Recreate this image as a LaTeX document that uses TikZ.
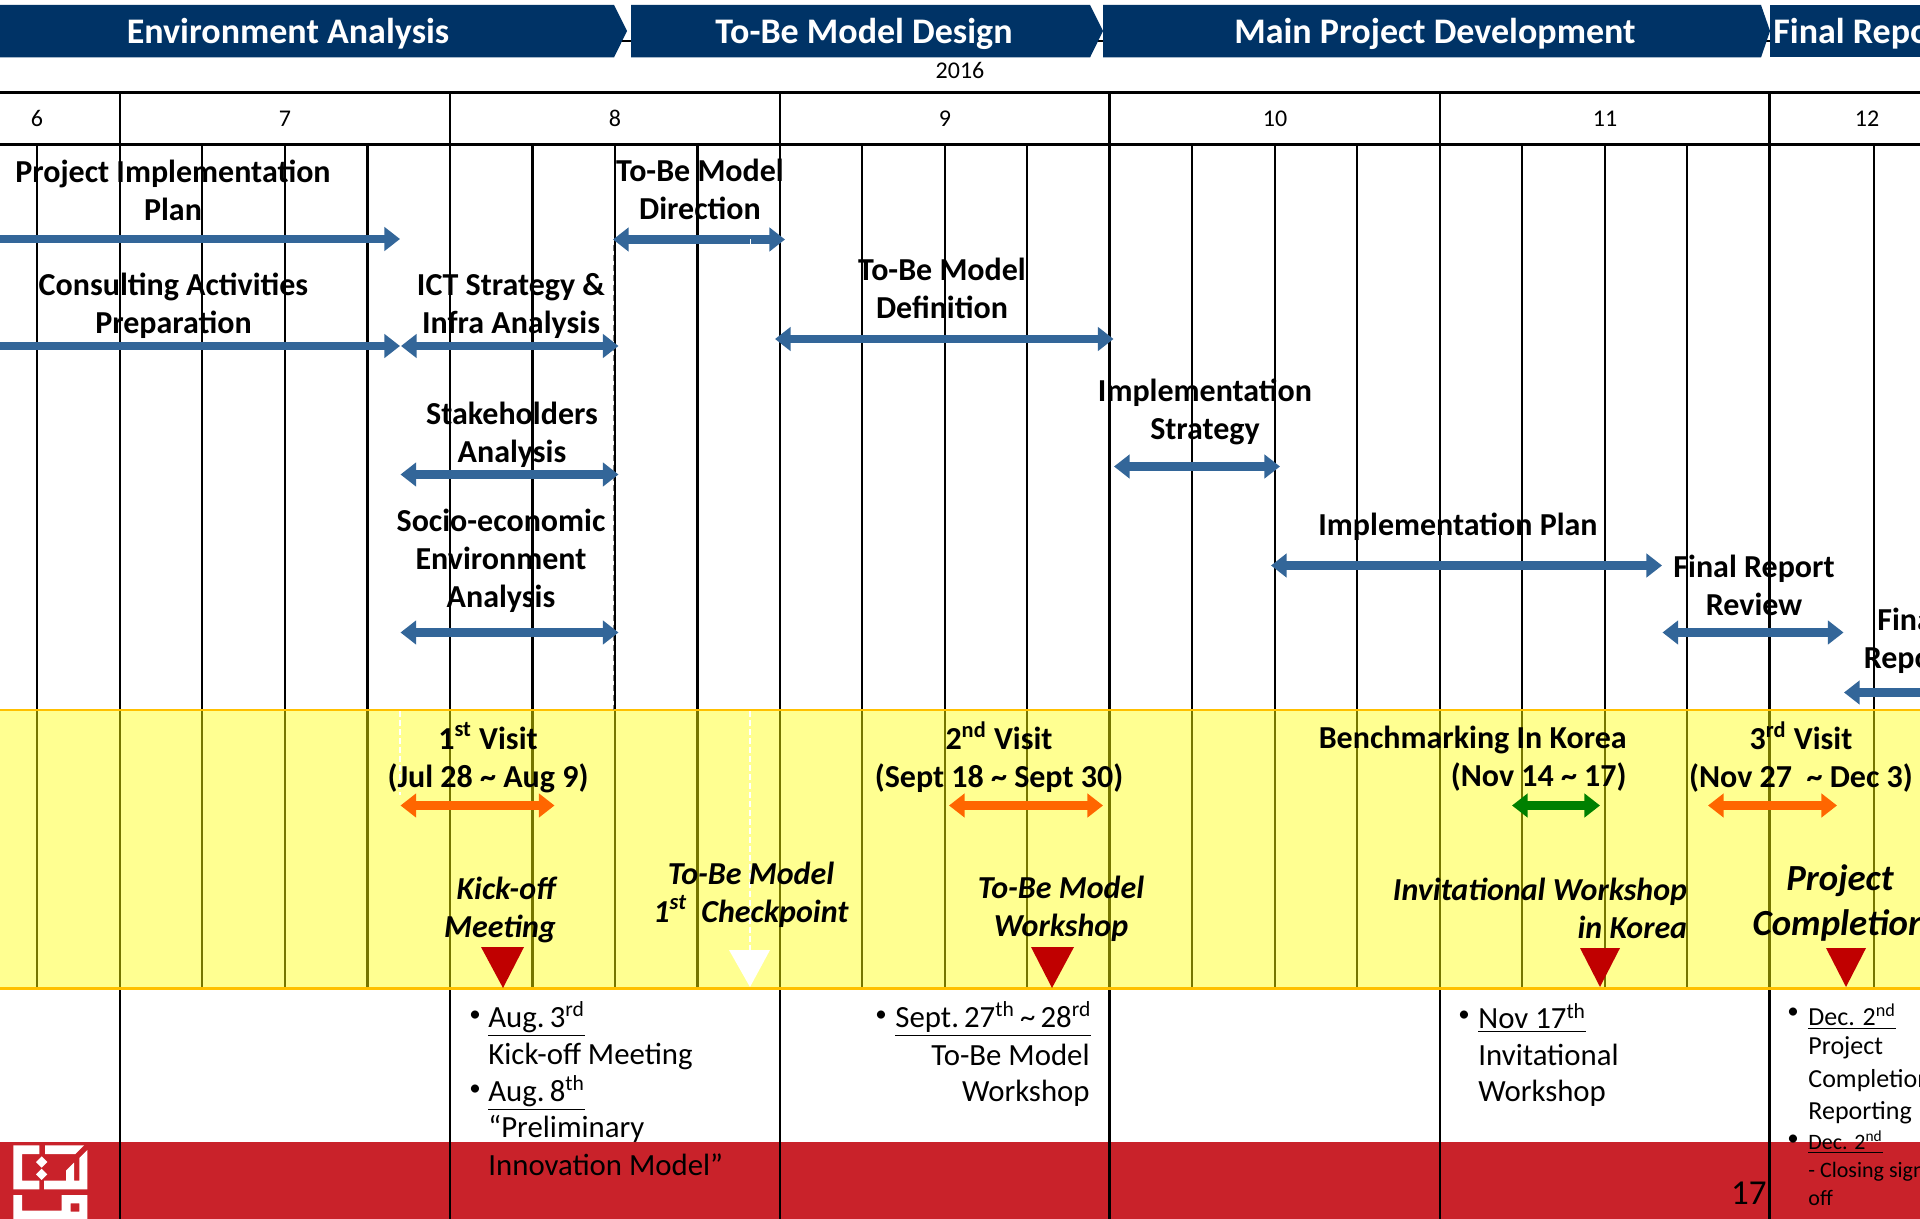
\documentclass[tikz,border=0pt]{standalone}
\usepackage{fontspec}
\setmainfont{Carlito}
\usetikzlibrary{arrows.meta}
\definecolor{navy}{HTML}{003366}
\definecolor{barblue}{HTML}{336699}
\definecolor{bandyellow}{HTML}{FFFF91}
\definecolor{bandedge}{HTML}{FFC000}
\definecolor{olive}{HTML}{757500}
\definecolor{redfoot}{HTML}{C9222A}
\definecolor{marker}{HTML}{C00000}
\definecolor{visit}{HTML}{FF6600}
\definecolor{korea}{HTML}{008000}
\tikzset{
  x=0.5pt,y=-0.5pt,
  chevron/.style={fill=navy,draw=none},
  chevtext/.style={inner sep=0,text=white,font=\fontsize{18}{21}\selectfont\bfseries},
  grid/.style={line width=1.3pt,black},
  gridy/.style={line width=1.3pt,olive},
  rulehead/.style={line width=1.5pt,black},
  month/.style={inner sep=0,font=\fontsize{12}{14}\selectfont},
  lbl/.style={inner sep=0,align=center,font=\fontsize{16}{19}\selectfont\bfseries},
  ital/.style={inner sep=0,align=center,font=\fontsize{16}{19}\selectfont\bfseries\itshape},
  body/.style={inner sep=0,anchor=west,font=\fontsize{15.4}{18}\selectfont},
  small/.style={inner sep=0,anchor=west,font=\fontsize{13}{16}\selectfont},
  smaller/.style={inner sep=0,anchor=west,font=\fontsize{11}{13}\selectfont},
  bul/.style={inner sep=0,font=\fontsize{11.5}{13}\selectfont},
  blockarrow/.style={line width=4.4pt,{Triangle[length=7.8pt,width=11.6pt]}-{Triangle[length=7.8pt,width=11.6pt]}},
  blockright/.style={line width=4.4pt,-{Triangle[length=7.8pt,width=11.6pt]}},
  blockleft/.style={line width=4.4pt,{Triangle[length=7.8pt,width=11.6pt]}-},
  marktri/.style={fill=marker,draw=none},
  logo/.style={fill=white,draw=none},
}
\begin{document}
\begin{tikzpicture}
\useasboundingbox (0,0) rectangle (1920,1219);
\fill[white] (0,0) rectangle (1920,1219);
% bands
\fill[bandyellow] (0,710) rectangle (1920,988);
\fill[redfoot] (0,1142) rectangle (1920,1219);
% small line behind the chevrons
\draw[line width=0.8pt] (0,41) -- (1920,41);
% chevrons
\fill[chevron] (0,5) -- (614,5) -- (627,31) -- (614,57.5) -- (0,57.5) -- cycle;
\fill[chevron] (631,5) -- (1090,5) -- (1103,31) -- (1090,57.5) -- (631,57.5) -- cycle;
\fill[chevron] (1103,5) -- (1761,5) -- (1770,31) -- (1761,57.5) -- (1103,57.5) -- cycle;
\fill[chevron] (1770,5) -- (1920,5) -- (1920,57.5) -- (1770,57.5) -- cycle;
\node[chevtext] (phaseA) at (288,34) {Environment Analysis};
\node[chevtext] (phaseB) at (864,34) {To-Be Model Design};
\node[chevtext] (phaseC) at (1435,34) {Main Project Development};
\node[chevtext,anchor=west] (phaseD) at (1773,34) {Final Report};
\node[month] (year) at (960,70) {2016};
% grid
\foreach \x in {37,202,285,367.5,532.5,615,697.5,862,945,1027,1192,1275,1357,1522,1605,1687,1874}{
  \draw[grid] (\x,144) -- (\x,710);
  \draw[gridy] (\x,710) -- (\x,988);
}
\foreach \x in {120,450,780,1109.5,1440,1769.5}{
  \draw[grid] (\x,92) -- (\x,710);
  \draw[gridy] (\x,710) -- (\x,988);
  \draw[grid] (\x,988) -- (\x,1219);
}
\draw[rulehead] (0,92.5) -- (1920,92.5);
\draw[rulehead] (0,144.5) -- (1920,144.5);
\draw[bandedge,line width=1.3pt] (0,710) -- (1920,710);
\draw[bandedge,line width=1.5pt] (0,988) -- (1920,988);
% guides
\draw[gray,line width=0.4pt,densely dashed] (613.5,245) -- (613.5,710);
\draw[white,line width=0.7pt,dash pattern=on 3pt off 1.5pt] (400,711) -- (400,795);
\draw[white,line width=0.7pt,dash pattern=on 3pt off 1.5pt] (750,711) -- (750,952);
% months
\node[month] (m6) at (37,118.5) {6};
\node[month] (m7) at (285,118.5) {7};
\node[month] (m8) at (615,118.5) {8};
\node[month] (m9) at (945,118.5) {9};
\node[month] (m10) at (1275,118.5) {10};
\node[month] (m11) at (1605,118.5) {11};
\node[month] (m12) at (1867,118.5) {12};
% arrows
\coordinate (p1a) at (-20,239); \coordinate (p1b) at (400,239);
\coordinate (p2a) at (-20,346); \coordinate (p2b) at (400,346);
\coordinate (p3a) at (401,346); \coordinate (p3b) at (618.5,346);
\coordinate (p4a) at (613,239.5); \coordinate (p4b) at (785,239.5);
\coordinate (p5a) at (775,339); \coordinate (p5b) at (1113.5,339);
\coordinate (p6a) at (400.5,474.5); \coordinate (p6b) at (618.5,474.5);
\coordinate (p7a) at (400.5,632.5); \coordinate (p7b) at (618.5,632.5);
\coordinate (p8a) at (1114,466.5); \coordinate (p8b) at (1280,466.5);
\coordinate (p9a) at (1271,565.5); \coordinate (p9b) at (1662,565.5);
\coordinate (p10a) at (1662.5,632.5); \coordinate (p10b) at (1843.5,632.5);
\coordinate (p11a) at (1844,692.5); \coordinate (p11b) at (1940,692.5);
\coordinate (v1a) at (400.5,805.5); \coordinate (v1b) at (554.5,805.5);
\coordinate (v2a) at (949,805.5); \coordinate (v2b) at (1103,805.5);
\coordinate (v3a) at (1512,805.5); \coordinate (v3b) at (1600,805.5);
\coordinate (v4a) at (1708,805.5); \coordinate (v4b) at (1837,805.5);
\draw[blockright,barblue] (p1a) -- (p1b);
\draw[blockright,barblue] (p2a) -- (p2b);
\draw[blockarrow,barblue] (p3a) -- (p3b);
\draw[blockarrow,barblue] (p4a) -- (p4b);
\draw[blockarrow,barblue] (p5a) -- (p5b);
\draw[blockarrow,barblue] (p6a) -- (p6b);
\draw[blockarrow,barblue] (p7a) -- (p7b);
\draw[blockarrow,barblue] (p8a) -- (p8b);
\draw[blockarrow,barblue] (p9a) -- (p9b);
\draw[blockarrow,barblue] (p10a) -- (p10b);
\draw[blockleft,barblue] (p11a) -- (p11b);
\draw[blockarrow,visit] (v1a) -- (v1b);
\draw[blockarrow,visit] (v2a) -- (v2b);
\draw[blockarrow,korea] (v3a) -- (v3b);
\draw[blockarrow,visit] (v4a) -- (v4b);
\draw[white,line width=0.5pt] (750,239) -- (750,244);
% activity labels
\node[lbl] (t1) at (173,190) {Project Implementation\\Plan};
\node[lbl] (t2) at (173.5,305.5) {Consulting Activities\\Preparation};
\node[lbl] (t3) at (511,305.5) {ICT Strategy \&\\Infra Analysis};
\node[lbl] (t4) at (700,189) {To-Be Model\\Direction};
\node[lbl] (t5) at (942,288) {To-Be Model\\Definition};
\node[lbl] (t6) at (1205,411.5) {Implementation\\Strategy};
\node[lbl] (t7) at (512,434.5) {Stakeholders\\Analysis};
\node[lbl] (t8) at (501,561) {Socio-economic\\Environment\\Analysis};
\node[lbl] (t9) at (1458,527) {Implementation Plan};
\node[lbl] (t10) at (1754,585) {Final Report\\Review};
\node[lbl] (t11) at (1909,640.5) {Final\\Report};
% visits
\node[lbl] (s1) at (488,757.5) {1\textsuperscript{st} Visit\\(Jul 28 \textasciitilde{} Aug 9)};
\node[lbl] (s2) at (999,757) {2\textsuperscript{nd} Visit\\(Sept 18 \textasciitilde{} Sept 30)};
\node[lbl,align=right,anchor=east] (s3) at (1627,758.5) {Benchmarking In Korea\\(Nov 14 \textasciitilde{} 17)};
\node[lbl] (s4) at (1801,757) {3\textsuperscript{rd} Visit\\(Nov 27\ \ \textasciitilde{} Dec 3)};
% milestones
\node[ital] (k1) at (503,909.5) {\hspace*{3pt}Kick-off\\Meeting\hspace*{3pt}};
\node[ital] (k2) at (751,894.5) {To-Be Model\\1\textsuperscript{st}\ \ Checkpoint};
\node[ital] (k3) at (1061,909) {To-Be Model\\Workshop};
\node[ital,align=right,anchor=east] (k4) at (1687.5,908.5) {Invitational Workshop\\in Korea};
\node[ital,font=\fontsize{18.4}{22.5}\selectfont\bfseries\itshape] (k5) at (1840,903) {Project\\Completion};
% triangles
\fill[marktri] (481,947) -- (524,947) -- (503,988) -- cycle;
\fill[white] (729,950) -- (770,950) -- (750,987) -- cycle;
\fill[marktri] (1031,947) -- (1074,947) -- (1052,988) -- cycle;
\fill[marktri] (1580,948) -- (1620,948) -- (1600,987) -- cycle;
\fill[marktri] (1826,948) -- (1866,948) -- (1846,987) -- cycle;
% notes
\node[bul] (a0) at (475,1016) {\textbullet};
\node[body] (a1) at (488,1019) {\underline{Aug.\,3\textsuperscript{rd}}};
\node[body] (a2) at (488,1056) {Kick-off Meeting};
\node[bul] (a3) at (475,1090) {\textbullet};
\node[body] (a4) at (488,1093) {\underline{Aug.\,8\textsuperscript{th}}};
\node[body] (a5) at (488,1129) {“Preliminary};
\node[body] (a6) at (488,1165) {Innovation Model”};
\node[bul] (b0) at (881,1016) {\textbullet};
\node[body] (b1) at (895,1019) {\underline{Sept.\,27\textsuperscript{th}\,\textasciitilde{}\,28\textsuperscript{rd}}};
\node[body,anchor=east] (b2) at (1090,1055) {To-Be Model};
\node[body,anchor=east] (b3) at (1090,1093.5) {Workshop};
\node[bul] (c0) at (1464,1016) {\textbullet};
\node[body] (c1) at (1478,1018) {\underline{Nov 17\textsuperscript{th}}};
\node[body] (c2) at (1478,1055) {Invitational};
\node[body] (c3) at (1478,1093.5) {Workshop};
\node[bul] (d0) at (1793,1013) {\textbullet};
\node[small] (d1) at (1808,1016.5) {\underline{Dec. 2\textsuperscript{nd}}};
\node[small] (d2) at (1808,1048) {Project};
\node[small] (d3) at (1808,1081) {Completion};
\node[small] (d4) at (1808,1113) {Reporting};
\node[bul] (d5) at (1793,1140) {\textbullet};
\node[smaller] (d6) at (1808,1142) {\underline{Dec. 2\textsuperscript{nd}}};
\node[smaller] (d7) at (1808,1171.5) {- Closing sign-};
\node[smaller] (d8) at (1808,1198) {off};
\node[inner sep=0,anchor=east,font=\fontsize{17.5}{20}\selectfont] (pg) at (1767,1193) {17};
% logo
\begin{scope}[shift={(0,1130)},x=0.1667pt,y=-0.1667pt]
\fill[logo] (40,46) -- (118,46) -- (118,72) -- (66,72) -- (66,152) -- (118,152) -- (118,178) -- (40,178) -- cycle;
\fill[logo] (135,46) -- (252,46) -- (226,72) -- (135,72) -- cycle;
\fill[logo] (262,60) -- (262,178) -- (132,178) -- (132,152) -- (198,152) -- (198,122) -- (222,98) -- (222,152) -- (238,152) -- (238,84) -- cycle;
\fill[logo] (125,79) -- (142,96) -- (125,113) -- (108,96) -- cycle;
\fill[logo] (125,116) -- (142,133) -- (125,150) -- (108,133) -- cycle;
\fill[logo,even odd rule] (40,195) -- (66,195) -- (66,242) -- (185,242) -- (185,195) -- (262,195) -- (262,267) -- (40,267) -- cycle (212,220) rectangle (238,245);
\end{scope}
\end{tikzpicture}
\end{document}
